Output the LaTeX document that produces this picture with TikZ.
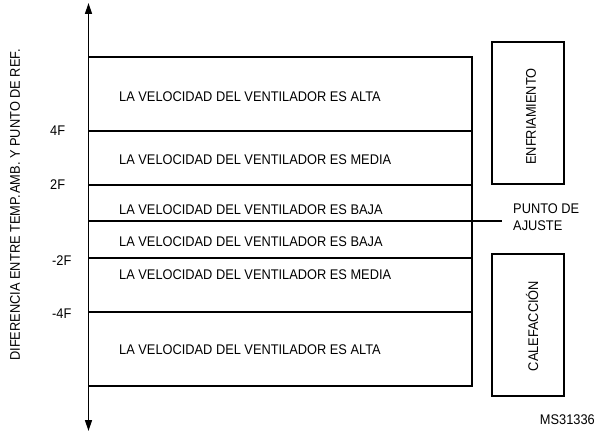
\documentclass[tikz,border=0pt]{standalone}
\usepackage{fontspec}
\setmainfont{Liberation Sans}[FakeStretch=0.915]
\usetikzlibrary{arrows.meta}
\begin{document}
\begin{tikzpicture}[x=1pt,y=-1pt,
  txt/.style={font=\fontsize{14}{16.5}\selectfont, inner sep=0pt},
  band/.style={txt, anchor=west},
  tline/.style={line width=1.1pt},
  modebox/.style={draw, line width=2pt, minimum width=72pt, minimum height=142pt, inner sep=0pt},
  axisarrow/.style={line width=1.4pt, -{Triangle[length=11pt,width=7pt]}}
]
\useasboundingbox (0,0) rectangle (596,436);
% axis
\coordinate (amid) at (88.5,221);
\coordinate (atop) at (88.5,3);
\coordinate (abot) at (88.5,431);
\draw[axisarrow] (amid) -- (atop);
\draw[axisarrow] (amid) -- (abot);
% table lines
\coordinate (l0) at (88.5,57);   \coordinate (r0) at (472,57);
\coordinate (l1) at (88.5,131);  \coordinate (r1) at (472,131);
\coordinate (l2) at (88.5,185);  \coordinate (r2) at (472,185);
\coordinate (l4) at (88.5,258);  \coordinate (r4) at (472,258);
\coordinate (l5) at (88.5,312);  \coordinate (r5) at (472,312);
\coordinate (l6) at (88.5,386);  \coordinate (r6) at (472,386);
\coordinate (sp) at (502,221);
\draw[tline] (l0) -- (r0) -- (r6) -- (l6);
\draw[tline] (l1) -- (r1);
\draw[tline] (l2) -- (r2);
\draw[tline] (l4) -- (r4);
\draw[tline] (l5) -- (r5);
\draw[line width=1.8pt] (amid) -- (sp);
% band texts
\node[band] (t1) at (119,96.5) {LA VELOCIDAD DEL VENTILADOR ES ALTA};
\node[band] (t2) at (119,159.5) {LA VELOCIDAD DEL VENTILADOR ES MEDIA};
\node[band] (t3) at (119,209.5) {LA VELOCIDAD DEL VENTILADOR ES BAJA};
\node[band] (t4) at (119,241.5) {LA VELOCIDAD DEL VENTILADOR ES BAJA};
\node[band] (t5) at (119,275) {LA VELOCIDAD DEL VENTILADOR ES MEDIA};
\node[band] (t6) at (119,350) {LA VELOCIDAD DEL VENTILADOR ES ALTA};
% axis labels
\node[txt, anchor=west] (y4) at (50,131) {4F};
\node[txt, anchor=west] (y2) at (50,185) {2F};
\node[txt, anchor=west] (ym2) at (52,261) {-2F};
\node[txt, anchor=west] (ym4) at (52,314) {-4F};
\node[txt, rotate=90] (ylab) at (15,205) {DIFERENCIA ENTRE TEMP.\hspace{1.5pt}AMB. Y PUNTO DE REF.};
% set point label
\node[txt, anchor=west, align=left] (splab) at (513,217) {PUNTO DE\\AJUSTE};
% mode boxes
\node[modebox] (cool) at (528,113) {};
\node[txt, rotate=90] (cooltxt) at (531,116.5) {ENFRIAMIENTO};
\node[modebox] (heat) at (528,325) {};
\node[txt, rotate=90] (heattxt) at (532,326) {CALEFACCIÓN};
% figure id
\node[txt, anchor=east] (msid) at (595,420) {MS31336};
\end{tikzpicture}
\end{document}
